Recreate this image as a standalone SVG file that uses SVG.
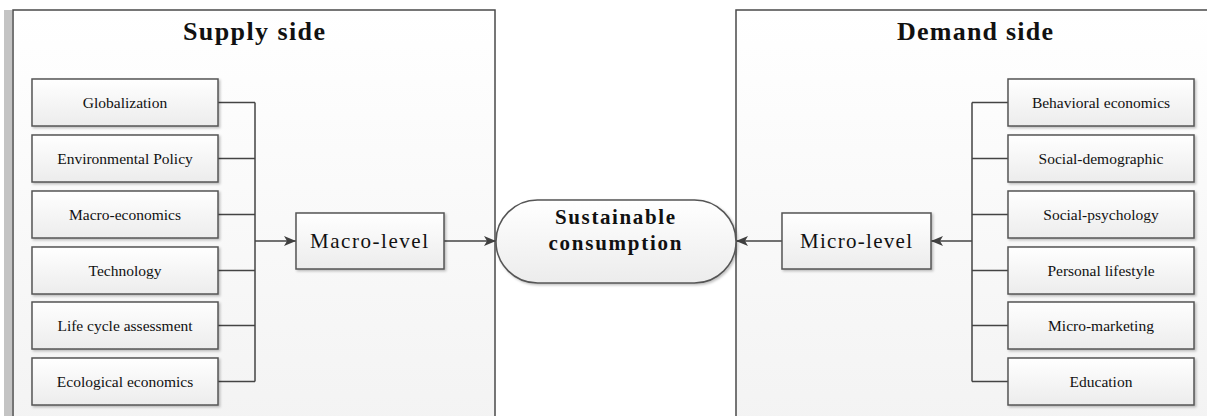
<svg xmlns="http://www.w3.org/2000/svg" width="1207" height="416" viewBox="0 0 1207 416">
<defs>
<linearGradient id="panelG" x1="0" y1="0" x2="0" y2="1"><stop offset="0" stop-color="#ffffff"/><stop offset="1" stop-color="#f3f3f3"/></linearGradient>
<linearGradient id="boxG" x1="0" y1="0" x2="0" y2="1"><stop offset="0" stop-color="#ffffff"/><stop offset="1" stop-color="#ececec"/></linearGradient>
<filter id="sh" x="-10%" y="-10%" width="120%" height="130%"><feDropShadow dx="1.5" dy="1.5" stdDeviation="1" flood-color="#000" flood-opacity="0.25"/></filter>
<marker id="ah" viewBox="0 0 12 10" refX="12" refY="5" markerWidth="12" markerHeight="10" markerUnits="userSpaceOnUse" orient="auto"><path d="M0,0 L12,5 L0,10 L3,5 Z" fill="#404040"/></marker>
<style>
.panel{fill:url(#panelG);stroke:#4a4a4a;stroke-width:1.5}
.box{fill:url(#boxG);stroke:#555;stroke-width:1.5;filter:url(#sh)}
.lbl{font-family:"Liberation Serif","Times New Roman",serif;font-size:15.5px;fill:#111;text-anchor:middle}
.mid{font-family:"Liberation Serif","Times New Roman",serif;font-size:21px;fill:#111;text-anchor:middle}
.ttl{font-family:"Liberation Serif","Times New Roman",serif;font-size:26px;font-weight:bold;fill:#111;text-anchor:middle}
.sc{font-family:"Liberation Serif","Times New Roman",serif;font-size:21px;font-weight:bold;fill:#111;text-anchor:middle}
.ln{fill:none;stroke:#444;stroke-width:1.5}
.ar{fill:none;stroke:#444;stroke-width:1.5;marker-end:url(#ah)}
</style>
</defs>
<rect x="0" y="0" width="1207" height="416" fill="#ffffff"/>
<rect x="4" y="10" width="8" height="406" fill="#c4c4c4"/>
<g id="supply-panel">
<rect class="panel" x="13" y="10" width="482" height="420"/>
<text class="ttl" x="254" y="40" textLength="142" lengthAdjust="spacing">Supply side</text>
</g>
<g id="demand-panel">
<rect class="panel" x="736" y="10" width="480" height="420"/>
<text class="ttl" x="975" y="40" textLength="156" lengthAdjust="spacing">Demand side</text>
</g>
<g id="connectors">
<path class="ln" d="M218,102.5 H255 M218,158.5 H255 M218,214.5 H255 M218,270.5 H255 M218,325.5 H255 M218,381.5 H255 M255,102.5 V381.5"/>
<path class="ar" d="M255,241 H296"/>
<path class="ar" d="M444,241 H496"/>
<path class="ln" d="M1008,102.5 H972 M1008,158.5 H972 M1008,214.5 H972 M1008,270.5 H972 M1008,325.5 H972 M1008,381.5 H972 M972,102.5 V381.5"/>
<path class="ar" d="M972,241 H931"/>
<path class="ar" d="M782,241 H736"/>
</g>
<g id="globalization"><rect class="box" x="32" y="79" width="186" height="47"/><text class="lbl" x="125" y="108">Globalization</text></g>
<g id="environmental-policy"><rect class="box" x="32" y="135" width="186" height="47"/><text class="lbl" x="125" y="164">Environmental Policy</text></g>
<g id="macro-economics"><rect class="box" x="32" y="191" width="186" height="47"/><text class="lbl" x="125" y="220">Macro-economics</text></g>
<g id="technology"><rect class="box" x="32" y="247" width="186" height="47"/><text class="lbl" x="125" y="276">Technology</text></g>
<g id="life-cycle-assessment"><rect class="box" x="32" y="302" width="186" height="47"/><text class="lbl" x="125" y="331">Life cycle assessment</text></g>
<g id="ecological-economics"><rect class="box" x="32" y="358" width="186" height="47"/><text class="lbl" x="125" y="387">Ecological economics</text></g>
<g id="macro-level"><rect class="box" x="296" y="213" width="148" height="56"/><text class="mid" x="369" y="248" textLength="118" lengthAdjust="spacing">Macro-level</text></g>
<g id="sustainable-consumption"><rect class="box" x="496" y="200" width="240" height="83" rx="41.5" ry="41.5"/><text class="sc" x="615" y="224" textLength="120" lengthAdjust="spacing">Sustainable</text><text class="sc" x="615" y="250" textLength="133" lengthAdjust="spacing">consumption</text></g>
<g id="micro-level"><rect class="box" x="782" y="213" width="149" height="56"/><text class="mid" x="856" y="248" textLength="112" lengthAdjust="spacing">Micro-level</text></g>
<g id="behavioral-economics"><rect class="box" x="1008" y="79" width="186" height="47"/><text class="lbl" x="1101" y="108">Behavioral economics</text></g>
<g id="social-demographic"><rect class="box" x="1008" y="135" width="186" height="47"/><text class="lbl" x="1101" y="164">Social-demographic</text></g>
<g id="social-psychology"><rect class="box" x="1008" y="191" width="186" height="47"/><text class="lbl" x="1101" y="220">Social-psychology</text></g>
<g id="personal-lifestyle"><rect class="box" x="1008" y="247" width="186" height="47"/><text class="lbl" x="1101" y="276">Personal lifestyle</text></g>
<g id="micro-marketing"><rect class="box" x="1008" y="302" width="186" height="47"/><text class="lbl" x="1101" y="331">Micro-marketing</text></g>
<g id="education"><rect class="box" x="1008" y="358" width="186" height="47"/><text class="lbl" x="1101" y="387">Education</text></g>
</svg>
